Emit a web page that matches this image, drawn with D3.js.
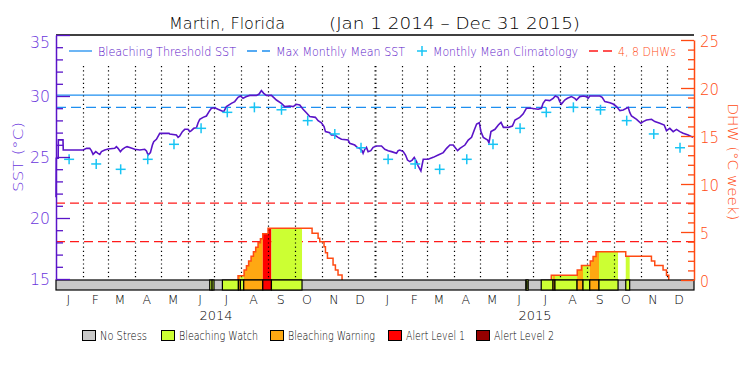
<!DOCTYPE html>
<html>
<head>
<meta charset="utf-8">
<script src="https://cdn.jsdelivr.net/npm/d3@7"></script>
<style>
  body { margin: 0; background: #fff; }
  svg { display: block; font-family: "DejaVu Sans", sans-serif; }
  svg text { font-weight: 200; }
</style>
</head>
<body>
<svg id="chart" width="750" height="375"></svg>
<script>
// SST readings: [days since 1 Jan 2014, degC]
const sstSeries = [
  [0,21.7],[0.3,24.9],[2.5,24.9],[2.7,26.4],[8,26.4],[8.3,25.57],[31,25.57],[35,25.71],[38.6,25.71],[40.5,25.52],
  [42.4,25.22],[45.5,25.44],[48.1,25.3],[50.1,25.22],[52,25.44],[55.8,25.57],[59.6,25.66],[67.2,25.71],[69.1,25.85],
  [71,25.71],[73.7,25.44],[76,25.63],[78.7,25.77],[81.3,25.85],[84.4,25.77],[90.1,25.63],[95.8,25.57],[101.5,25.63],
  [103.5,25.5],[105.4,25.16],[108,25.36],[110.3,25.98],[111.8,26.26],[114.9,26.45],[118.7,26.94],[129.4,26.94],
  [130.1,26.89],[137.8,26.8],[139.7,26.61],[141.6,26.72],[144.6,27.08],[147.3,27.27],[151.1,27.27],[153,27.08],
  [154.9,27.16],[157.6,27.35],[160.7,27.4],[162.6,27.81],[164.5,28.09],[168.3,28.25],[172.1,28.36],[175.1,28.72],
  [177.8,28.99],[181.6,29.04],[185.4,28.91],[189.3,28.8],[191.9,28.72],[195,29.13],[200.7,29.4],[204.5,29.54],
  [208.3,29.89],[211,30.0],[214,29.81],[217.9,29.95],[221.7,30.05],[229.3,30.05],[232.4,30.16],[235,30.44],
  [237.7,30.22],[240.8,30.05],[246.5,30.05],[252.2,29.67],[257.9,29.4],[261.7,29.13],[267.4,29.18],
  [271.3,29.13],[275.1,29.32],[278.9,29.26],[282.7,28.91],[286.5,28.63],[290.3,28.31],[296.8,28.25],[299.9,27.98],
  [303.7,27.81],[306.7,27.49],[308.3,27.08],[313.2,26.99],[315.1,26.8],[318.9,26.8],[322.7,26.61],[326.6,26.45],
  [334.3,26.39],[336.1,26.12],[341.8,25.98],[344.9,25.77],[347.6,25.71],[350.3,25.52],[351.4,25.3],[353.3,25.63],
  [355.2,25.79],[357.1,25.44],[360.2,25.52],[362.9,25.79],[366.7,25.9],[372.4,25.9],[376.2,25.63],[380.1,25.52],
  [383.9,25.44],[389.6,25.3],[391.5,25.52],[393.4,25.57],[397.3,25.44],[399.9,25.16],[402.2,24.75],[404.9,24.62],
  [407.6,24.75],[409.9,24.97],[412.5,24.62],[414.4,24.26],[417.5,23.85],[420.2,24.81],[425.9,24.81],[431.6,24.97],
  [437.3,25.16],[443.1,25.36],[446.9,25.71],[450.7,25.98],[454.5,25.98],[456.4,25.79],[459.5,25.52],[462.2,25.71],
  [467.9,25.98],[471.7,26.39],[475.5,26.61],[478.6,27.21],[481.3,27.7],[484.3,27.81],[486.2,27.08],[488.9,26.61],
  [493.9,26.39],[495.4,26.17],[497.7,27.08],[502.3,27.27],[506.1,27.62],[509.2,27.84],[511.9,27.43],[517.6,27.43],
  [522.2,27.54],[525.2,28.03],[530.6,28.25],[534.4,28.52],[538.2,28.99],[543.9,28.99],[551.6,28.91],[555.4,28.99],
  [557.3,29.4],[560,29.67],[564.9,29.62],[568.8,29.81],[571.4,30.0],[574.5,29.89],[576.4,29.54],[578.3,29.34],
  [582.1,29.67],[585.2,29.81],[589.8,29.95],[593.6,29.81],[595.5,29.67],[599.3,29.95],[603.2,30.0],[607,29.95],
  [608.9,29.81],[610.8,30.0],[614.6,30.0],[622.3,30.0],[624.9,29.89],[628,29.54],[633.7,29.45],[637.5,29.34],
  [641.4,29.13],[645.2,28.8],[649,28.85],[654.7,29.07],[656.6,28.63],[658.5,28.36],[664.3,28.09],[669.2,27.76],
  [671.9,27.9],[675.7,28.03],[681.4,28.09],[685.2,27.9],[690.9,27.76],[695.9,27.62],[698.5,27.16],[702.3,27.35],
  [706.2,27.08],[710,27.26],[713.8,27.08],[717.6,26.94],[723.3,26.8],[729,26.61]
];

// monthly mean climatology, Jan..Dec (same for both years)
const climatology = [24.81, 24.43, 23.99, 24.81, 26.04, 27.35, 28.66, 29.07, 28.87, 27.98, 26.89, 25.76];
const mmm = 29.07;
const bleachThreshold = 30.07;
const dhwLevels = [4, 8];

// degree heating weeks, step values: [days since 1 Jan 2014, DHW]
const dhw2014 = [
  [208.3,0],[208.3,0.45],[215.2,1.04],[217.9,1.49],[220.4,1.98],[223.2,2.47],[225.9,2.95],[228.5,3.4],
  [231.2,3.89],[233.9,4.3],[236.6,4.82],[242.6,5.39],[293,4.86],[299.9,4.34],[301.8,3.99],[306.7,3.47],
  [308.3,2.85],[310.6,2.26],[317,1.56],[319.7,1.04],[322.7,0.52],[327.3,0]
];
const dhw2015 = [
  [566.7,0],[566.7,0.5],[596.4,1.04],[601.2,1.52],[611.3,1.98],[614.5,2.45],[617.9,2.95],[651.9,2.48],
  [681.3,1.98],[685.1,1.5],[694.6,1.03],[698.5,0.5],[701.1,0]
];

// stress level periods: [start day, end day, level]  (1 watch, 2 warning, 3 alert 1)
const stressPeriods = [
  [175.9,178.6,1],[178.6,180.8,1],[190.4,208.7,1],[208.7,211,2],[211,214.8,1],[214.8,236.6,2],[236.6,246.5,3],
  [246.5,281.5,1],[537.5,538.9,1],[538.9,540.3,1],[555.2,568.7,1],[568.7,570.9,2],[570.9,596.2,1],[596.2,603,2],
  [603,610.7,1],[610.7,621.3,2],[621.3,643.1,1],[651.9,656.4,1]
];
const stressNames  = ['No Stress', 'Bleaching Watch', 'Bleaching Warning', 'Alert Level 1', 'Alert Level 2'];
const stressColors = ['#c8c8c8', '#ccff33', '#ffa812', '#ff0000', '#960000'];

const years = ['2014', '2015'];

// ---------- setup ----------
const svg = d3.select('#chart');
const PURPLE = '#5a14c8', LABELPURPLE = '#6a35dc', BLUE = '#1e8ff0', CYAN = '#18c4f4', ORANGE = '#ff4a12', RED = '#ff1a1a';
const start = Date.UTC(2014, 0, 1);
const toDate = d => new Date(start + d * 864e5);

const x = d3.scaleUtc()
  .domain([new Date(start), new Date(Date.UTC(2016, 0, 1))])
  .range([56, 694]);
const ySst = d3.scaleLinear().domain([15, 35]).range([279, 35]);
const yDhw = d3.scaleLinear().domain([0, 25]).range([280, 40]);

const plotL = 56, plotR = 694, plotT = 35, barTop = 280, barBot = 290;

// title
svg.append('text').attr('x', 169).attr('y', 29).attr('font-size', 15)
  .attr('textLength', 116).attr('lengthAdjust', 'spacingAndGlyphs').text('Martin, Florida');
svg.append('text').attr('x', 329).attr('y', 29).attr('font-size', 15)
  .attr('textLength', 251).attr('lengthAdjust', 'spacingAndGlyphs').text('(Jan 1 2014 \u2013 Dec 31 2015)');

// top frame line
svg.append('line').attr('x1', plotL).attr('x2', plotR).attr('y1', plotT).attr('y2', plotT)
  .attr('stroke', '#000').attr('stroke-width', 1.3);

// DHW reference lines
svg.append('g').selectAll('line').data(dhwLevels).join('line')
  .attr('x1', plotL).attr('x2', plotR)
  .attr('y1', d => yDhw(d)).attr('y2', d => yDhw(d))
  .attr('stroke', RED).attr('stroke-width', 1.2).attr('stroke-dasharray', '9,5');

// MMM and threshold
svg.append('line').attr('x1', plotL).attr('x2', plotR).attr('y1', ySst(mmm)).attr('y2', ySst(mmm))
  .attr('stroke', BLUE).attr('stroke-width', 1.2).attr('stroke-dasharray', '10,5');
svg.append('line').attr('x1', plotL).attr('x2', plotR).attr('y1', ySst(bleachThreshold)).attr('y2', ySst(bleachThreshold))
  .attr('stroke', BLUE).attr('stroke-width', 1.3);

// DHW fill coloured by stress level, clipped to area under DHW
const dhwArea = d3.area().curve(d3.curveStepAfter)
  .x(d => x(toDate(d[0]))).y0(yDhw(0)).y1(d => yDhw(d[1]));
const clip = svg.append('clipPath').attr('id', 'dhwclip');
clip.append('path').attr('d', dhwArea(dhw2014));
clip.append('path').attr('d', dhwArea(dhw2015));

svg.append('g').attr('clip-path', 'url(#dhwclip)')
  .selectAll('rect').data(stressPeriods).join('rect')
  .attr('x', d => x(toDate(d[0])))
  .attr('width', d => x(toDate(d[1])) - x(toDate(d[0])))
  .attr('y', yDhw(10)).attr('height', yDhw(0) - yDhw(10))
  .attr('fill', d => stressColors[d[2]]);

// month dotted lines
const monthStarts = d3.utcMonth.range(new Date(Date.UTC(2014, 1, 1)), new Date(Date.UTC(2016, 0, 1)));
svg.append('g').selectAll('line').data(monthStarts).join('line')
  .attr('x1', d => Math.round(x(d)) + 0.5).attr('x2', d => Math.round(x(d)) + 0.5)
  .attr('y1', 66).attr('y2', barTop)
  .attr('stroke', '#000')
  .attr('stroke-width', d => d.getUTCMonth() === 0 ? 2 : 1.2)
  .attr('stroke-dasharray', '1.2,3');

// DHW outline
const dhwLine = d3.line().curve(d3.curveStepAfter)
  .x(d => x(toDate(d[0]))).y(d => yDhw(d[1]));
[dhw2014, dhw2015].forEach(s => {
  svg.append('path').attr('d', dhwLine(s))
    .attr('fill', 'none').attr('stroke', ORANGE).attr('stroke-width', 1.5);
});

// SST line
const sstLine = d3.line().x(d => x(toDate(d[0]))).y(d => ySst(d[1]));
svg.append('path').attr('d', sstLine(sstSeries))
  .attr('fill', 'none').attr('stroke', PURPLE).attr('stroke-width', 1.6);

// climatology markers (mid-month)
const climPts = d3.utcMonth.range(new Date(start), new Date(Date.UTC(2016, 0, 1)))
  .map(m => ({ date: d3.utcDay.offset(m, 15), v: climatology[m.getUTCMonth()] }));
const plus = svg.append('g').selectAll('g').data(climPts).join('g')
  .attr('transform', d => `translate(${x(d.date)},${ySst(d.v)})`);
plus.append('line').attr('x1', -5).attr('x2', 5).attr('stroke', CYAN).attr('stroke-width', 1.5);
plus.append('line').attr('y1', -5).attr('y2', 5).attr('stroke', CYAN).attr('stroke-width', 1.5);

// stress bar
svg.append('rect').attr('x', plotL).attr('y', barTop).attr('width', plotR - plotL).attr('height', barBot - barTop)
  .attr('fill', stressColors[0]).attr('stroke', '#000').attr('stroke-width', 1.2);
svg.append('g').selectAll('rect').data(stressPeriods).join('rect')
  .attr('x', d => x(toDate(d[0])))
  .attr('width', d => x(toDate(d[1])) - x(toDate(d[0])))
  .attr('y', barTop).attr('height', barBot - barTop)
  .attr('fill', d => stressColors[d[2]])
  .attr('stroke', '#000').attr('stroke-width', 1.2);

// left axis (SST)
const axL = svg.append('g').attr('transform', `translate(${plotL},0)`)
  .call(d3.axisLeft(ySst).tickValues(d3.range(15, 36)).tickSizeInner(-7).tickSizeOuter(0).tickPadding(6)
    .tickFormat(d => d % 5 === 0 ? d : ''));
axL.select('.domain').attr('stroke', PURPLE).attr('stroke-width', 1.5);
axL.selectAll('.tick line').attr('stroke', PURPLE).attr('stroke-width', 1.3)
  .attr('x2', d => d % 5 === 0 ? 14 : 7);
axL.selectAll('.tick text').attr('fill', LABELPURPLE).attr('font-size', 15)
  .attr('font-family', 'DejaVu Sans').attr('textLength', 20).attr('lengthAdjust', 'spacingAndGlyphs')
  .attr('dy', d => d === 35 ? '0.85em' : '0.35em');

// right axis (DHW)
const axR = svg.append('g').attr('transform', `translate(${plotR},0)`)
  .call(d3.axisRight(yDhw).tickValues(d3.range(0, 26)).tickSizeInner(-6).tickSizeOuter(0).tickPadding(6)
    .tickFormat(d => d % 5 === 0 ? d : ''));
axR.select('.domain').attr('stroke', ORANGE).attr('stroke-width', 1.5);
axR.selectAll('.tick line').attr('stroke', ORANGE).attr('stroke-width', 1.3)
  .attr('x2', d => d % 5 === 0 ? -13 : -6);
axR.selectAll('.tick text').attr('fill', ORANGE).attr('font-size', 15)
  .attr('font-family', 'DejaVu Sans').attr('lengthAdjust', 'spacingAndGlyphs')
  .attr('textLength', d => d >= 10 ? 19 : 9).attr('dy', '0.4em');

// axis titles
svg.append('text').attr('transform', 'translate(23,157) rotate(-90)')
  .attr('text-anchor', 'middle').attr('fill', LABELPURPLE).attr('font-size', 14)
  .attr('textLength', 70).attr('lengthAdjust', 'spacingAndGlyphs').text('SST (\u00b0C)');
svg.append('text').attr('transform', 'translate(728,162) rotate(90)')
  .attr('text-anchor', 'middle').attr('fill', ORANGE).attr('font-size', 14)
  .attr('textLength', 117).attr('lengthAdjust', 'spacingAndGlyphs').text('DHW (\u00b0C week)');

// month and year labels
const allMonths = d3.utcMonth.range(new Date(start), new Date(Date.UTC(2016, 0, 1)));
svg.append('g').selectAll('text').data(allMonths).join('text')
  .attr('x', d => x(d3.utcDay.offset(d, 14))).attr('y', 304)
  .attr('text-anchor', 'middle').attr('font-size', 12.5)
  .text(d => d3.utcFormat('%b')(d)[0]);
svg.append('g').selectAll('text').data(years).join('text')
  .attr('x', d => x(new Date(Date.UTC(+d, 6, 3)))).attr('y', 320)
  .attr('text-anchor', 'middle').attr('font-size', 13)
  .attr('textLength', 33).attr('lengthAdjust', 'spacingAndGlyphs')
  .text(d => d);

// in-plot legend
const lg = svg.append('g');
lg.append('line').attr('x1', 69).attr('x2', 92).attr('y1', 51).attr('y2', 51).attr('stroke', BLUE).attr('stroke-width', 1.3);
lg.append('text').attr('x', 98).attr('y', 56).attr('font-size', 12.5).attr('fill', PURPLE)
  .attr('textLength', 138).attr('lengthAdjust', 'spacingAndGlyphs').text('Bleaching Threshold SST');
lg.append('line').attr('x1', 247).attr('x2', 270).attr('y1', 51).attr('y2', 51).attr('stroke', BLUE)
  .attr('stroke-width', 1.3).attr('stroke-dasharray', '10,5');
lg.append('text').attr('x', 276).attr('y', 56).attr('font-size', 12.5).attr('fill', PURPLE)
  .attr('textLength', 129).attr('lengthAdjust', 'spacingAndGlyphs').text('Max Monthly Mean SST');
lg.append('line').attr('x1', 417).attr('x2', 427).attr('y1', 51).attr('y2', 51).attr('stroke', CYAN).attr('stroke-width', 1.5);
lg.append('line').attr('x1', 422).attr('x2', 422).attr('y1', 46).attr('y2', 56).attr('stroke', CYAN).attr('stroke-width', 1.5);
lg.append('text').attr('x', 433).attr('y', 56).attr('font-size', 12.5).attr('fill', PURPLE)
  .attr('textLength', 145).attr('lengthAdjust', 'spacingAndGlyphs').text('Monthly Mean Climatology');
lg.append('line').attr('x1', 589).attr('x2', 612).attr('y1', 51).attr('y2', 51).attr('stroke', RED)
  .attr('stroke-width', 1.3).attr('stroke-dasharray', '9,5');
lg.append('text').attr('x', 618).attr('y', 56).attr('font-size', 12.5).attr('fill', ORANGE)
  .attr('textLength', 58).attr('lengthAdjust', 'spacingAndGlyphs').text('4, 8 DHWs');

// stress legend
const boxX  = [82, 161, 270, 388, 476];
const textW = [47, 79, 87, 59, 60];
const sl = svg.append('g').selectAll('g').data(stressNames).join('g');
sl.append('rect').attr('x', (d, i) => boxX[i] + 0.5).attr('y', 330.5).attr('width', 13).attr('height', 10)
  .attr('fill', (d, i) => stressColors[i]).attr('stroke', '#000').attr('stroke-width', 1);
sl.append('text').attr('x', (d, i) => boxX[i] + 18).attr('y', 340).attr('font-size', 12)
  .attr('textLength', (d, i) => textW[i]).attr('lengthAdjust', 'spacingAndGlyphs').text(d => d);
</script>
</body>
</html>
